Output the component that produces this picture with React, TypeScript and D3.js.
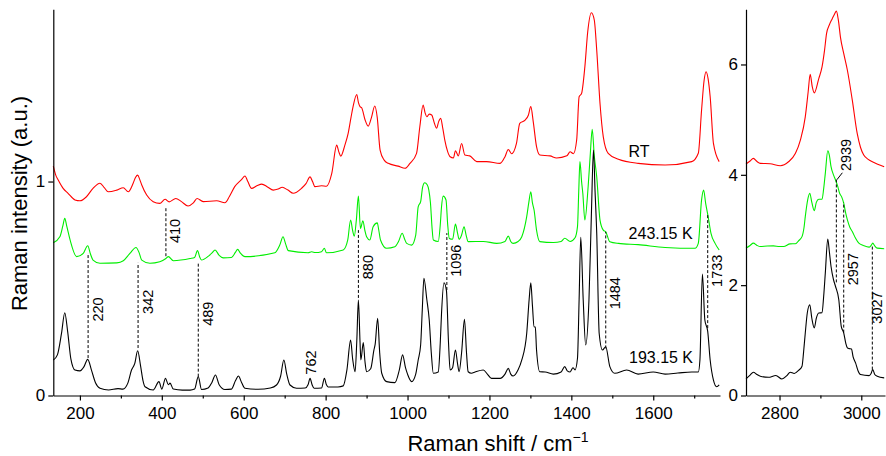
import React, { useEffect, useRef } from "react";
import * as d3 from "d3";

type P = [number, number];

// ---- Low-wavenumber region (left panel) ----
const rtLow: P[] = [
  [135,1.072],[141,1.03],[147,1.007],[159,0.968],[171,0.945],[188,0.914],[200,0.91],[216,0.929],[232,0.968],[249,0.992],
  [260,0.97],[269,0.952],[290,0.96],[306,0.971],[318,0.952],[330,0.992],[336,1.02],[341,1.03],[346,1.01],[351,0.984],
  [363,0.937],[379,0.906],[395,0.898],[408,0.917],[418,0.905],[434,0.921],[448,0.906],[464,0.886],[477,0.9],[486,0.921],
  [501,0.906],[534,0.91],[554,0.901],[565,0.93],[578,0.976],[595,1.01],[603,1.026],[610,1.0],[619,0.968],[632,0.98],
  [644,0.988],[658,0.975],[672,0.96],[684,0.965],[694,0.973],[708,0.96],[721,0.945],[741,0.968],[752,0.99],[762,1.022],
  [768,1.0],[774,0.976],[790,0.98],[802,0.978],[815,1.038],[827,1.17],[832,1.14],[837,1.119],[847,1.17],[855,1.225],
  [862,1.3],[867,1.35],[876,1.407],[880,1.37],[884,1.35],[888,1.345],[896,1.29],[904,1.259],[912,1.3],[920,1.353],
  [926,1.3],[933,1.147],[943,1.1],[953,1.085],[977,1.072],[994,1.062],[1006,1.085],[1022,1.132],[1030,1.256],[1038,1.357],
  [1043,1.32],[1047,1.303],[1053,1.315],[1059,1.311],[1066,1.27],[1071,1.249],[1076,1.28],[1081,1.295],[1086,1.25],[1091,1.194],
  [1098,1.14],[1104,1.116],[1112,1.11],[1117,1.144],[1124,1.12],[1132,1.178],[1140,1.124],[1152,1.12],[1169,1.093],[1193,1.093],
  [1226,1.085],[1238,1.116],[1246,1.15],[1254,1.13],[1266,1.178],[1274,1.272],[1287,1.287],[1295,1.31],[1301,1.35],[1307,1.279],
  [1315,1.163],[1323,1.124],[1348,1.12],[1364,1.11],[1389,1.12],[1397,1.139],[1405,1.13],[1413,1.194],[1419,1.396],[1425,1.412],
  [1433,1.536],[1440,1.7],[1449,1.789],[1456,1.755],[1462,1.614],[1470,1.365],[1478,1.209],[1490,1.132],[1515,1.104],[1563,1.085],
  [1629,1.077],[1694,1.093],[1710,1.132],[1718,1.334],[1724,1.47],[1729,1.513],[1734,1.48],[1739,1.396],[1747,1.178],[1761,1.093]
];

const k243Low: P[] = [
  [135,0.714],[151,0.742],[158,0.79],[163,0.828],[168,0.79],[176,0.727],[192,0.649],[208,0.664],[219,0.7],[226,0.66],
  [232,0.633],[249,0.618],[290,0.62],[306,0.63],[322,0.664],[337,0.692],[344,0.67],[351,0.633],[371,0.618],[395,0.625],
  [410,0.64],[416,0.649],[428,0.63],[469,0.64],[480,0.645],[487,0.677],[493,0.645],[497,0.633],[513,0.65],[522,0.665],
  [530,0.68],[540,0.655],[550,0.643],[570,0.645],[580,0.67],[585,0.683],[592,0.665],[603,0.649],[676,0.667],[688,0.703],
  [696,0.742],[702,0.71],[709,0.677],[757,0.667],[766,0.672],[775,0.668],[790,0.672],[797,0.688],[802,0.667],[843,0.68],
  [854,0.727],[861,0.82],[866,0.77],[870,0.745],[875,0.82],[880,0.932],[885,0.781],[891,0.817],[896,0.77],[900,0.742],
  [908,0.727],[916,0.789],[926,0.807],[930,0.77],[934,0.727],[949,0.688],[969,0.695],[978,0.72],[987,0.758],[993,0.73],
  [998,0.711],[1010,0.703],[1020,0.75],[1026,0.882],[1032,0.906],[1037,0.975],[1042,0.994],[1048,0.985],[1052,0.96],[1056,0.9],[1060,0.78],
  [1063,0.727],[1075,0.72],[1080,0.8],[1083,0.882],[1087,0.932],[1094,0.914],[1098,0.8],[1102,0.734],[1110,0.73],[1117,0.801],
  [1122,0.76],[1126,0.73],[1132,0.75],[1138,0.789],[1143,0.75],[1148,0.719],[1185,0.72],[1218,0.711],[1238,0.72],[1246,0.745],
  [1252,0.72],[1258,0.711],[1270,0.72],[1279,0.742],[1291,0.836],[1296,0.9],[1301,0.952],[1305,0.9],[1309,0.867],[1315,0.773],
  [1323,0.719],[1356,0.715],[1375,0.72],[1384,0.735],[1397,0.72],[1409,0.737],[1415,0.789],[1418,0.95],[1421,1.093],[1425,1.0],
  [1428,0.945],[1433,0.82],[1441,0.976],[1446,1.12],[1451,1.244],[1456,1.12],[1462,1.022],[1470,0.82],[1478,0.773],[1484,0.765],
  [1494,0.719],[1515,0.711],[1563,0.705],[1629,0.692],[1702,0.688],[1710,0.711],[1718,0.914],[1723,0.96],[1728,0.898],[1734,0.836],
  [1741,0.758],[1751,0.711],[1761,0.68]
];

const k193Low: P[] = [
  [135,0.166],[145,0.19],[155,0.29],[163,0.387],[170,0.3],[178,0.17],[188,0.119],[200,0.115],[210,0.135],[219,0.169],
  [228,0.12],[238,0.06],[249,0.034],[270,0.026],[293,0.032],[305,0.03],[317,0.058],[326,0.119],[334,0.15],[341,0.209],
  [348,0.14],[354,0.07],[359,0.041],[379,0.026],[393,0.065],[400,0.03],[409,0.08],[416,0.05],[420,0.058],[428,0.03],
  [450,0.025],[469,0.025],[480,0.03],[489,0.088],[497,0.028],[513,0.035],[522,0.06],[531,0.096],[540,0.05],[554,0.028],
  [570,0.03],[580,0.07],[587,0.091],[595,0.06],[603,0.034],[635,0.029],[665,0.035],[680,0.049],[690,0.09],[698,0.166],
  [705,0.1],[713,0.049],[729,0.034],[750,0.035],[757,0.05],[762,0.08],[767,0.05],[772,0.034],[790,0.035],[797,0.08],
  [802,0.05],[806,0.04],[830,0.04],[843,0.045],[852,0.12],[861,0.259],[866,0.17],[872,0.111],[876,0.25],[880,0.446],
  [884,0.25],[886,0.166],[892,0.247],[896,0.16],[900,0.111],[910,0.125],[918,0.213],[921,0.24],[927,0.361],[932,0.2],
  [937,0.104],[949,0.065],[969,0.06],[980,0.12],[988,0.19],[995,0.13],[1000,0.1],[1010,0.065],[1020,0.1],[1026,0.166],
  [1032,0.236],[1036,0.4],[1040,0.548],[1047,0.45],[1053,0.353],[1058,0.2],[1063,0.104],[1075,0.11],[1080,0.25],[1083,0.384],
  [1089,0.527],[1095,0.49],[1100,0.25],[1104,0.119],[1110,0.13],[1117,0.213],[1122,0.15],[1126,0.111],[1132,0.2],[1139,0.356],
  [1144,0.2],[1148,0.111],[1156,0.104],[1165,0.11],[1185,0.119],[1195,0.1],[1205,0.08],[1226,0.08],[1238,0.1],[1246,0.127],
  [1252,0.1],[1258,0.091],[1270,0.12],[1279,0.166],[1291,0.29],[1297,0.45],[1301,0.527],[1305,0.42],[1309,0.321],[1312,0.32],
  [1315,0.213],[1323,0.111],[1336,0.11],[1356,0.1],[1375,0.11],[1384,0.135],[1390,0.115],[1397,0.11],[1404,0.13],[1409,0.12],
  [1415,0.174],[1419,0.45],[1423,0.739],[1429,0.446],[1435,0.236],[1443,0.446],[1449,0.85],[1454,1.147],[1458,0.95],[1462,0.758],
  [1468,0.29],[1476,0.213],[1484,0.228],[1494,0.135],[1506,0.104],[1535,0.119],[1563,0.1],[1600,0.11],[1629,0.1],[1660,0.105],
  [1694,0.11],[1710,0.11],[1714,0.166],[1720,0.568],[1726,0.353],[1733,0.3],[1739,0.166],[1747,0.072],[1755,0.041],[1761,0.05]
];

// ---- C-H stretching region (right panel) ----
const rtHigh: P[] = [
  [2718,4.195],[2728,4.25],[2736,4.298],[2745,4.24],[2753,4.208],[2777,4.2],[2802,4.165],[2822,4.237],[2839,4.389],[2851,4.629],
  [2863,5.051],[2870,5.5],[2875,5.823],[2880,5.6],[2885,5.485],[2896,5.745],[2904,5.955],[2910,6.25],[2915,6.559],[2922,6.72],
  [2929,6.83],[2935,6.92],[2939,6.967],[2944,6.8],[2949,6.497],[2957,6.2],[2966,5.895],[2978,5.353],[2990,4.75],[2998,4.5],
  [3006,4.358],[3017,4.28],[3027,4.237],[3040,4.19],[3056,4.146]
];

const k243High: P[] = [
  [2718,2.671],[2728,2.72],[2736,2.761],[2745,2.72],[2753,2.7],[2770,2.71],[2785,2.712],[2800,2.7],[2810,2.7],[2826,2.749],
  [2839,2.75],[2847,2.808],[2855,2.88],[2860,3.05],[2863,3.242],[2869,3.55],[2874,3.665],[2879,3.5],[2885,3.351],[2890,3.5],
  [2896,3.557],[2904,3.557],[2908,3.75],[2912,4.027],[2918,4.436],[2922,4.35],[2926,4.147],[2932,4.0],[2937,3.906],[2942,3.8],
  [2947,3.665],[2952,3.6],[2957,3.485],[2962,3.3],[2966,3.183],[2972,3.05],[2978,2.971],[2986,2.85],[2994,2.761],[3005,2.72],
  [3019,2.689],[3024,2.72],[3028,2.761],[3033,2.71],[3039,2.671],[3056,2.66]
];

const k193High: P[] = [
  [2718,0.302],[2728,0.37],[2736,0.421],[2745,0.38],[2753,0.349],[2773,0.33],[2791,0.362],[2806,0.3],[2818,0.36],[2826,0.421],
  [2836,0.4],[2847,0.458],[2855,0.53],[2859,0.8],[2863,1.134],[2868,1.5],[2874,1.646],[2879,1.4],[2885,1.224],[2890,1.4],
  [2896,1.495],[2904,1.5],[2908,1.8],[2912,2.219],[2918,2.834],[2922,2.6],[2926,2.338],[2932,2.1],[2937,1.976],[2945,1.736],
  [2951,1.253],[2957,1.134],[2962,0.95],[2966,0.863],[2970,0.85],[2976,0.844],[2980,0.7],[2986,0.591],[2992,0.45],[2998,0.38],
  [3019,0.36],[3024,0.4],[3028,0.47],[3033,0.38],[3039,0.349],[3056,0.32]
];

// ---- axis ticks ----
const lowXTicks = [200, 400, 600, 800, 1000, 1200, 1400, 1600];
const lowXMinor = [300, 500, 700, 900, 1100, 1300, 1500, 1700];
const highXTicks = [2800, 3000];
const highXMinor = [2900];
const lowYTicks = [0, 1];
const highYTicks = [0, 2, 4, 6];

// ---- peak annotations: shift, dashed line from/to (intensity), label centre (intensity) ----
const lowPeaks = [
  { shift: 220, from: 0.175, to: 0.666, at: 0.402, line: true },
  { shift: 342, from: 0.222, to: 0.62, at: 0.438, line: true },
  { shift: 410, from: 0.651, to: 0.878, at: 0.769, line: true },
  { shift: 489, from: 0.088, to: 0.62, at: 0.382, line: true },
  { shift: 762, from: 0, to: 0, at: 0.154, line: false },
  { shift: 880, from: 0.456, to: 0.773, at: 0.6, line: true },
  { shift: 1096, from: 0.493, to: 0.759, at: 0.63, line: true },
  { shift: 1484, from: 0.22, to: 0.765, at: 0.478, line: true },
  { shift: 1733, from: 0.315, to: 0.851, at: 0.583, line: true },
];
const highPeaks = [
  { shift: 2939, from: 2.05, to: 3.91, at: 4.36, line: true },
  { shift: 2957, from: 1.14, to: 3.5, at: 2.29, line: true },
  { shift: 3027, from: 0.47, to: 2.71, at: 1.595, line: true },
];

// ---- series labels (shift, intensity of text baseline) ----
const seriesNames = ["RT", "243.15 K", "193.15 K"];
const seriesLabelShift = [1565, 1618, 1619];
const seriesLabelLevel = [1.113, 0.731, 0.153];
const seriesColors = ["#ff0000", "#00ee00", "#000000"];

const FONT = "'Liberation Sans', Arial, Helvetica, sans-serif";

export default function App() {
  const ref = useRef<SVGSVGElement>(null);

  useEffect(() => {
    const svg = d3.select(ref.current);
    svg.selectAll("*").remove();

    const yBase = 395.5;
    const yTop = 9.3;
    const xL = d3.scaleLinear().domain([135, 1763]).range([53.3, 720]);
    const yL = d3.scaleLinear().domain([0, 1.805]).range([yBase, yTop]);
    const xR = d3.scaleLinear().domain([2718, 3058]).range([746, 885]);
    const yR = d3.scaleLinear().domain([0, 7]).range([yBase, yTop]);

    const styleAxis = (g: any) => {
      g.attr("font-family", FONT).attr("font-size", 17);
      g.selectAll("text").attr("fill", "#000");
      g.selectAll("line").attr("stroke", "#000").attr("stroke-width", 1.2);
      g.select(".domain").attr("stroke", "#000").attr("stroke-width", 1.2);
    };

    const panel = (x: any, y: any, xt: number[], xm: number[], yt: number[], series: P[][], peaks: any[]) => {
      const line = d3
        .line<P>()
        .x((d) => x(d[0]))
        .y((d) => y(d[1]))
        .curve(d3.curveMonotoneX);
      series.forEach((s, i) => {
        svg
          .append("path")
          .attr("d", line(s) as string)
          .attr("fill", "none")
          .attr("stroke", seriesColors[i])
          .attr("stroke-width", 1.1)
          .attr("stroke-linejoin", "round");
      });

      const gx = svg
        .append("g")
        .attr("transform", `translate(0,${yBase})`)
        .call(d3.axisBottom(x).tickValues(xt).tickSize(5).tickSizeOuter(0).tickPadding(6).tickFormat(d3.format("d")));
      styleAxis(gx);
      const gxm = svg
        .append("g")
        .attr("transform", `translate(0,${yBase})`)
        .call(d3.axisBottom(x).tickValues(xm).tickSize(3).tickSizeOuter(0).tickFormat(() => ""));
      gxm.select(".domain").remove();
      styleAxis(gxm);

      const gy = svg
        .append("g")
        .attr("transform", `translate(${x.range()[0]},0)`)
        .call(d3.axisLeft(y).tickValues(yt).tickSize(5).tickSizeOuter(0).tickPadding(3).tickFormat(d3.format("d")));
      styleAxis(gy);

      peaks.forEach((p) => {
        const px = x(p.shift);
        if (p.line) {
          svg
            .append("line")
            .attr("x1", px)
            .attr("x2", px)
            .attr("y1", y(p.from))
            .attr("y2", y(p.to))
            .attr("stroke", "#000")
            .attr("stroke-width", 1)
            .attr("stroke-dasharray", "3,2");
        }
        const bx = p.line ? Math.min(px + 14.5, 882) : px + 5.5;
        svg
          .append("text")
          .attr("transform", `translate(${bx},${y(p.at)}) rotate(-90)`)
          .attr("text-anchor", "middle")
          .attr("font-family", FONT)
          .attr("font-size", 14.5)
          .attr("fill", "#000")
          .text(String(p.shift));
      });
    };

    panel(xL, yL, lowXTicks, lowXMinor, lowYTicks, [rtLow, k243Low, k193Low], lowPeaks);
    panel(xR, yR, highXTicks, highXMinor, highYTicks, [rtHigh, k243High, k193High], highPeaks);

    // leader for 2939 label
    svg
      .append("line")
      .attr("x1", xR(2939) + 0.5)
      .attr("y1", yR(3.91))
      .attr("x2", xR(2939) + 6)
      .attr("y2", yR(3.91) - 7)
      .attr("stroke", "#000")
      .attr("stroke-width", 1);

    seriesNames.forEach((n, i) => {
      svg
        .append("text")
        .attr("x", xL(seriesLabelShift[i]))
        .attr("y", yL(seriesLabelLevel[i]))
        .attr("text-anchor", "middle")
        .attr("font-family", FONT)
        .attr("font-size", 16)
        .attr("fill", "#000")
        .text(n);
    });

    const xt = svg
      .append("text")
      .attr("x", 498)
      .attr("y", 451)
      .attr("text-anchor", "middle")
      .attr("font-family", FONT)
      .attr("font-size", 22)
      .attr("fill", "#000");
    xt.append("tspan").text("Raman shift / cm");
    xt.append("tspan").attr("dy", -9).attr("font-size", 14).text("\u22121");

    svg
      .append("text")
      .attr("transform", "translate(27,203.5) rotate(-90)")
      .attr("text-anchor", "middle")
      .attr("font-family", FONT)
      .attr("font-size", 22)
      .attr("fill", "#000")
      .text("Raman intensity (a.u.)");
  }, []);

  return (
    <svg
      ref={ref}
      width={886}
      height={456}
      style={{ position: "absolute", left: 0, top: 0, background: "#fff" }}
    />
  );
}
